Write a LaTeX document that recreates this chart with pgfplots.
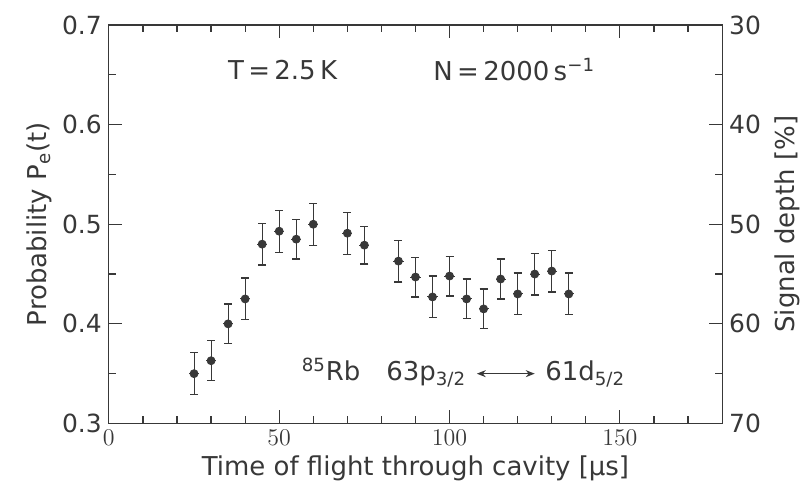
\documentclass[border=0pt]{standalone}
\usepackage{fontspec}
\setmainfont{DejaVu Sans}
\usepackage{pgfplots}
\pgfplotsset{compat=1.18}
\usetikzlibrary{arrows.meta}
\definecolor{ink}{gray}{0.22}
\begin{document}
\begin{tikzpicture}
\pgfplotstableread{
x    y      ex   ey
25   0.350  1.5  0.021
30   0.363  1.5  0.020
35   0.400  1.5  0.020
40   0.425  1.5  0.021
45   0.480  1.5  0.021
50   0.493  1.5  0.021
55   0.485  1.5  0.020
60   0.500  1.5  0.021
70   0.491  1.5  0.021
75   0.479  1.5  0.019
85   0.463  1.5  0.021
90   0.447  1.5  0.020
95   0.427  1.5  0.021
100  0.448  1.5  0.020
105  0.425  1.5  0.020
110  0.415  1.5  0.020
115  0.445  1.5  0.020
120  0.430  1.5  0.021
125  0.450  1.5  0.021
130  0.453  1.5  0.021
135  0.430  1.5  0.021
}\data
\begin{axis}[
  name=main,
  scale only axis, width=307pt, height=199.5pt,
  xmin=0, xmax=180, ymin=0.3, ymax=0.7,
  axis line style={ink, line width=0.6pt},
  xtick={0,50,100,150}, minor xtick={10,20,30,40,60,70,80,90,110,120,130,140,160,170},
  ytick={0.3,0.4,0.5,0.6,0.7}, minor ytick={0.35,0.45,0.55,0.65},
  yticklabels={0.3,0.4,0.5,0.6,0.7},
  xtick pos=both, ytick pos=left,
  tick align=inside,
  major tick length=6.5pt, minor tick length=3.5pt,
  every tick/.style={ink, line width=0.6pt},
  tick label style={font=\fontsize{12.5}{14}\selectfont, text=ink},
  label style={font=\fontsize{13}{15}\selectfont, text=ink},
  xlabel={Time of flight through cavity [µs]},
  ylabel={Probability P\textsubscript{e}(t)},
  xlabel style={yshift=2pt},
  ylabel style={yshift=-2pt},
  clip=false,
]
\addplot[only marks, mark=*, mark size=1.1pt, ink,
  error bars/.cd, x dir=both, x explicit, error mark=none,
  error bar style={ink, line width=0.5pt}]
  table[x=x, y=y, x error=ex] {\data};
\addplot[only marks, mark=none, ink, forget plot,
  error bars/.cd, y dir=both, y explicit,
  error bar style={ink, line width=0.5pt},
  error mark options={rotate=90, mark size=2pt, ink, line width=0.6pt}]
  table[x=x, y=y, y error=ey] {\data};
\node[text=ink, font=\fontsize{13}{15}\selectfont] at (axis cs:51,0.655) {T\,=\,2.5\,K};
\node[text=ink, font=\fontsize{13}{15}\selectfont] at (axis cs:119,0.655) {N\,=\,2000\,s\textsuperscript{−1}};
\node[text=ink, font=\fontsize{13}{15}\selectfont, anchor=base east, inner sep=0pt] at (axis cs:105,0.343)
  {\textsuperscript{85}Rb\quad 63p\textsubscript{3/2}};
\draw[ink, line width=0.6pt, {Stealth[length=4.5pt,width=3.5pt]}-{Stealth[length=4.5pt,width=3.5pt]}] (axis cs:108,0.35) -- (axis cs:125,0.35);
\node[text=ink, font=\fontsize{13}{15}\selectfont, anchor=base west, inner sep=0pt] at (axis cs:128,0.343)
  {61d\textsubscript{5/2}};
\end{axis}
\begin{axis}[
  scale only axis, width=307pt, height=199.5pt,
  xmin=0, xmax=180, ymin=0.3, ymax=0.7,
  axis x line=none, axis y line*=right,
  axis line style={ink, line width=0.6pt},
  ytick={0.3,0.4,0.5,0.6,0.7}, minor ytick={0.35,0.45,0.55,0.65},
  yticklabels={70,60,50,40,30},
  tick align=inside,
  major tick length=6.5pt, minor tick length=3.5pt,
  every tick/.style={ink, line width=0.6pt},
  tick label style={font=\fontsize{12.5}{14}\selectfont, text=ink},
  label style={font=\fontsize{13}{15}\selectfont, text=ink},
  ylabel={Signal depth [\%]},
]
\end{axis}
\pgfresetboundingbox
\path[use as bounding box] ([xshift=-54.5pt,yshift=-32.5pt]main.south west) rectangle ([xshift=43pt,yshift=12.5pt]main.north east);
\end{tikzpicture}
\end{document}
